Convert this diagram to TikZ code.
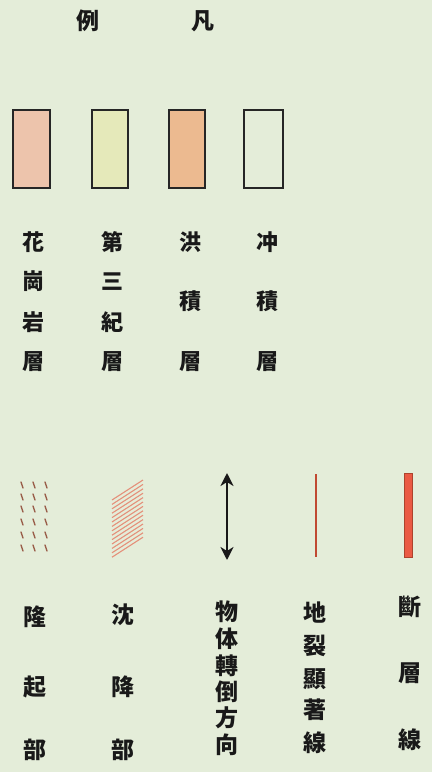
\documentclass[tikz,border=0pt]{standalone}
\usepackage{fontspec}
\newfontfamily\jp{Noto Sans CJK JP}
\usetikzlibrary{arrows.meta}
\definecolor{bg}{HTML}{E4EDD9}
\definecolor{granite}{HTML}{EDC4AC}
\definecolor{tertiary}{HTML}{E5E9BA}
\definecolor{diluv}{HTML}{ECBA90}
\definecolor{tick}{HTML}{9A5E4A}
\definecolor{hatch}{HTML}{E4907A}
\definecolor{crack}{HTML}{C04A32}
\definecolor{fault}{HTML}{EA5A44}
\tikzset{
  lbl/.style={font=\jp\bfseries\fontsize{22}{22}\selectfont, inner sep=0pt, text=black!90},
  blbl/.style={font=\jp\bfseries\fontsize{23}{23}\selectfont, inner sep=0pt, text=black!90},
  swatch/.style={draw=black!85, line width=2pt},
}
\begin{document}
\begin{tikzpicture}[x=1pt,y=-1pt]
\fill[bg] (0,0) rectangle (432,772);
\useasboundingbox (0,0) rectangle (432,772);
% title
\node[blbl] (t1) at (88,21) {例};
\node[blbl] (t2) at (203,21) {凡};
% swatches
\node[swatch, fill=granite, minimum width=37pt, minimum height=78pt, inner sep=0pt] (s1) at (31.5,149) {};
\node[swatch, fill=tertiary, minimum width=36pt, minimum height=78pt, inner sep=0pt] (s2) at (110,149) {};
\node[swatch, fill=diluv, minimum width=36pt, minimum height=78pt, inner sep=0pt] (s3) at (187,149) {};
\node[swatch, minimum width=39pt, minimum height=78pt, inner sep=0pt] (s4) at (263.5,149) {};
% upper labels
\foreach \c/\y [count=\i] in {花/242,崗/281,岩/322,層/362}
  \node[lbl] (a\i) at (34,\y) {\c};
\foreach \c/\y [count=\i] in {第/242,三/282,紀/322,層/362}
  \node[lbl] (b\i) at (112,\y) {\c};
\foreach \c/\y [count=\i] in {洪/242,積/301,層/362}
  \node[lbl] (c\i) at (190,\y) {\c};
\foreach \c/\y [count=\i] in {冲/242,積/301,層/362}
  \node[lbl] (d\i) at (267,\y) {\c};
% uplift ticks
\foreach \x in {22,34,46}
  \foreach \y in {485,497,509,522,535,548}
    \draw[tick, line width=1.3pt, line cap=round] (\x-1,\y-3) -- (\x+1,\y+3);
% subsidence hatch
\foreach \k in {0,...,13}
  \draw[hatch, line width=1.1pt] (112,500+4.4*\k) -- (143,480+4.4*\k);
% arrow
\coordinate (ar1) at (227,473);
\coordinate (ar2) at (227,560);
\draw[black!90, line width=2.4pt, {Stealth[length=13pt,width=13pt,inset=4pt]}-{Stealth[length=13pt,width=13pt,inset=4pt]}] (ar1) -- (ar2);
% crack line
\coordinate (cr1) at (316,474);
\coordinate (cr2) at (316,557);
\draw[crack, line width=2.2pt] (cr1) -- (cr2);
% fault line
\node[draw=crack!90!black, fill=fault, line width=0.6pt, minimum width=8pt, minimum height=84pt, inner sep=0pt] (fl) at (408,515) {};
% bottom labels
\foreach \c/\y [count=\i] in {隆/617,起/687,部/750}
  \node[blbl] (e\i) at (35,\y) {\c};
\foreach \c/\y [count=\i] in {沈/615,降/687,部/750}
  \node[blbl] (f\i) at (123,\y) {\c};
\foreach \c/\y [count=\i] in {物/612,体/639,轉/666,倒/692,方/718,向/745}
  \node[blbl] (g\i) at (227,\y) {\c};
\foreach \c/\y [count=\i] in {地/613,裂/646,顯/679,著/710,線/743}
  \node[blbl] (h\i) at (315,\y) {\c};
\foreach \c/\y [count=\i] in {斷/607,層/673,線/740}
  \node[blbl] (k\i) at (410,\y) {\c};
\end{tikzpicture}
\end{document}
